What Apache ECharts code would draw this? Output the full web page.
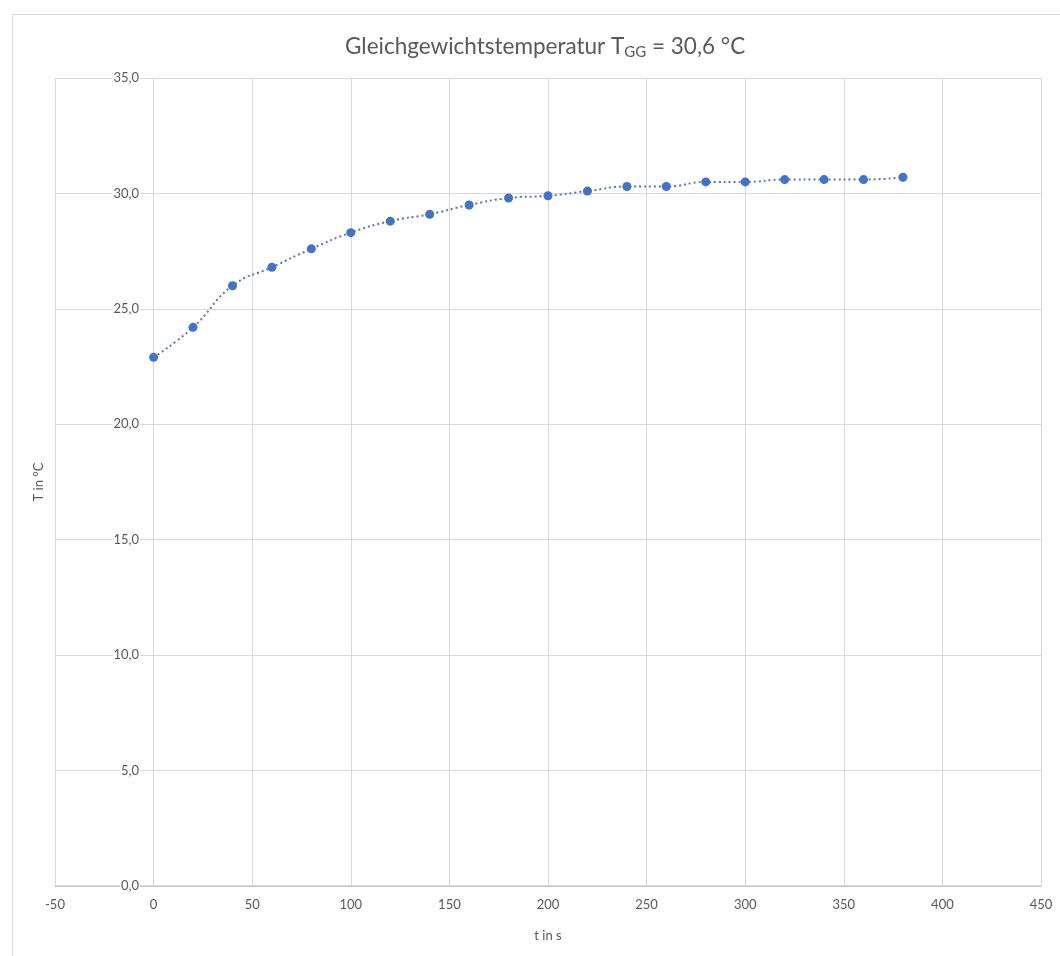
<!DOCTYPE html>
<html>
<head>
<meta charset="utf-8">
<script src="https://cdn.jsdelivr.net/npm/echarts@6/dist/echarts.min.js"></script>
<style>html,body{margin:0;padding:0;background:#fff;}#c{width:1060px;height:956px;}</style>
</head>
<body>
<div id="c"></div>
<script>
const times = [0,20,40,60,80,100,120,140,160,180,200,220,240,260,280,300,320,340,360,380];
const temps = [22.9,24.2,26.0,26.8,27.6,28.3,28.8,29.1,29.5,29.8,29.9,30.1,30.3,30.3,30.5,30.5,30.6,30.6,30.6,30.7];
const titleMain = 'Gleichgewichtstemperatur T';
const titleSub = 'GG';
const titleRest = ' = 30,6 °C';
const xName = 't in s';
const yName = 'T in °C';

const FONT = 'Lato, "Open Sans", sans-serif';
const chart = echarts.init(document.getElementById('c'), null, {renderer: 'canvas'});
chart.setOption({
  backgroundColor: '#fff',
  animation: false,
  title: {
    text: '{m|' + titleMain + '}{s|' + titleSub + '}{m|' + titleRest + '}',
    left: 340, top: 29,
    textStyle: {
      rich: {
        m: {fontFamily: FONT, fontSize: 22.5, color: '#595959', fontWeight: 'normal'},
        s: {fontFamily: FONT, fontSize: 15, color: '#595959', fontWeight: 'normal', verticalAlign: 'bottom', padding: [11,0,0,0]}
      }
    }
  },
  graphic: [{
    type: 'rect', left: 10, top: 12, silent: true,
    shape: {width: 1100, height: 1000},
    style: {fill: 'none', stroke: '#d9d9d9', lineWidth: 1}
  }],
  grid: {left: 55, right: 19, top: 78, bottom: 70, containLabel: false, outerBoundsMode: 'none'},
  xAxis: {
    type: 'value', min: -50, max: 450, interval: 50,
    name: xName, nameLocation: 'middle', nameGap: 43,
    nameTextStyle: {fontFamily: FONT, fontSize: 13, color: '#595959'},
    axisLine: {onZero: false, lineStyle: {color: '#c8c8c8', width: 1.5}},
    axisTick: {show: false},
    axisLabel: {fontFamily: FONT, fontSize: 13, color: '#595959', margin: 12},
    splitLine: {show: true, lineStyle: {color: '#d9d9d9', width: 1}}
  },
  yAxis: {
    type: 'value', min: 0, max: 35, interval: 5,
    offset: -99,
    name: yName, nameLocation: 'middle', nameGap: 109,
    nameTextStyle: {fontFamily: FONT, fontSize: 13, color: '#595959'},
    axisLine: {show: false, onZero: false},
    axisTick: {show: false},
    axisLabel: {
      fontFamily: FONT, fontSize: 13, color: '#595959', margin: 14,
      backgroundColor: '#fff', padding: [0,1,0,1],
      formatter: v => v.toFixed(1).replace('.', ',')
    },
    splitLine: {show: true, lineStyle: {color: '#d9d9d9', width: 1}}
  },
  series: [{
    type: 'line',
    data: times.map((t, i) => [t, temps[i]]),
    smooth: 0.5,
    symbol: 'circle', symbolSize: 9,
    itemStyle: {color: '#4472c4'},
    lineStyle: {color: '#5b77b0', width: 2, type: [2, 3]},
    z: 5
  }]
});
</script>
</body>
</html>
